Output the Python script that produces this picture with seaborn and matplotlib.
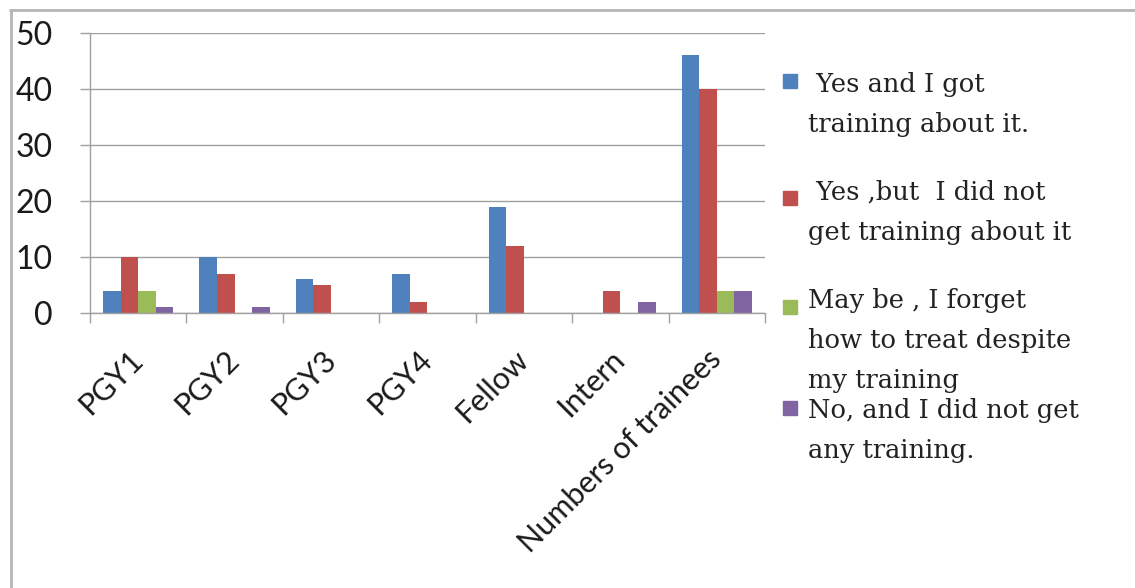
import pandas as pd
import matplotlib.pyplot as plt
import seaborn as sns
from matplotlib.patches import Rectangle
from matplotlib.lines import Line2D

# Data
levels = ["PGY1", "PGY2", "PGY3", "PGY4", "Fellow", "Intern", "Numbers of trainees"]
yes_trained = [4, 10, 6, 7, 19, 0, 46]
yes_not_trained = [10, 7, 5, 2, 12, 4, 40]
maybe_forget = [4, 0, 0, 0, 0, 0, 4]
no_training = [1, 1, 0, 0, 0, 2, 4]

series_names = [
    " Yes and I got\ntraining about it.",
    " Yes ,but  I did not\nget training about it",
    "May be , I forget\nhow to treat despite\nmy training",
    "No, and I did not get\nany training.",
]
colors = ["#4F81BD", "#C0504D", "#9BBB59", "#8064A2"]

rows = []
for name, vals in zip(series_names, [yes_trained, yes_not_trained, maybe_forget, no_training]):
    for lvl, v in zip(levels, vals):
        rows.append({"level": lvl, "count": v, "response": name})
df = pd.DataFrame(rows)

sns.set_style("white")
plt.rcParams["font.family"] = ["Lato", "DejaVu Sans"]

W, H = 1135, 588
fig = plt.figure(figsize=(W / 100, H / 100), dpi=100)
ax = fig.add_axes([90 / W, 1 - 313 / H, (765 - 90) / W, (313 - 33) / H])

sns.barplot(data=df, x="level", y="count", hue="response", palette=colors,
            width=0.73, saturation=1, legend=False, ax=ax, edgecolor="none")

grey = "#a0a0a0"
ax.set_ylim(0, 50)
ax.set_xlim(-0.5, len(levels) - 0.5)
ax.set_yticks(range(0, 51, 10))
ax.yaxis.grid(True, color=grey, linewidth=1.0)
ax.set_axisbelow(True)
ax.set_xlabel("")
ax.set_ylabel("")

for side in ["top", "right"]:
    ax.spines[side].set_visible(False)
for side in ["left", "bottom"]:
    ax.spines[side].set_color(grey)
    ax.spines[side].set_linewidth(1.0)

ax.tick_params(axis="y", length=7, width=1.0, color=grey, pad=20,
               labelsize=23, labelcolor="#1a1a1a", left=True)
ax.set_xticks(range(len(levels)))
ax.set_xticks([i - 0.5 for i in range(len(levels) + 1)], minor=True)
ax.tick_params(axis="x", which="major", length=0, pad=30, labelsize=22, labelcolor="#1a1a1a")
ax.tick_params(axis="x", which="minor", length=7, width=1.0, color=grey, bottom=True)
ax.set_xticklabels(levels, rotation=45, ha="right", va="center", rotation_mode="anchor")

# legend, Excel style: swatch + wrapped label lines
serif = ["DejaVu Serif"]
swatch_y = [81, 198, 307, 408]
text_base = [92, 200, 308, 418]
line_gap = 40
for c, name, sy, ty in zip(colors, series_names, swatch_y, text_base):
    s = 14
    fig.add_artist(Rectangle((783 / W, 1 - (sy + s / 2) / H), s / W, s / H,
                             transform=fig.transFigure, color=c))
    for k, line in enumerate(name.split("\n")):
        fig.text(808 / W, 1 - (ty + k * line_gap) / H, line, family=serif, fontsize=18.5,
                 va="baseline", ha="left", color="#222222")

# outer chart border (cut off at the right and bottom)
fig.add_artist(Line2D([10 / W, 1], [1 - 9.5 / H, 1 - 9.5 / H], transform=fig.transFigure,
                      color="#b5b5b5", linewidth=2))
fig.add_artist(Line2D([10.5 / W, 10.5 / W], [0, 1 - 9.5 / H], transform=fig.transFigure,
                      color="#b5b5b5", linewidth=2))

plt.savefig("out.png", dpi=100)
